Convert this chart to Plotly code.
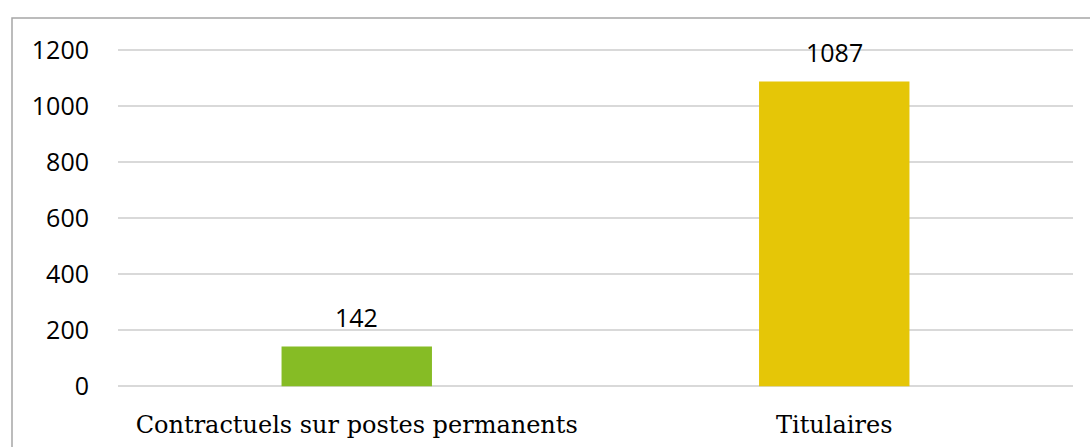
import plotly.graph_objects as go

categories = ["Contractuels sur postes permanents", "Titulaires"]
values = [142, 1087]
bar_colors = ["#86BC25", "#E5C607"]
y_ticks = [0, 200, 400, 600, 800, 1000, 1200]

fig = go.Figure(go.Bar(
    x=categories, y=values,
    marker=dict(color=bar_colors, line=dict(width=0)),
    width=0.315, hoverinfo="x+y",
))

for c, v in zip(categories, values):
    fig.add_annotation(x=c, y=v, text=str(v), showarrow=False,
                       xanchor="center", yanchor="bottom", yshift=10,
                       font=dict(family="Open Sans", size=25, color="#000000"))

fig.update_layout(
    width=1090, height=447,
    margin=dict(l=118, r=17, t=47, b=58, autoexpand=False),
    paper_bgcolor="white", plot_bgcolor="white",
    showlegend=False,
    xaxis=dict(showgrid=False, showline=False, zeroline=False, automargin=False,
               tickfont=dict(family="DejaVu Serif", size=24, color="#000000"),
               ticklabelstandoff=19),
    yaxis=dict(range=[-10, 1210], tickvals=y_ticks, showgrid=True, automargin=False,
               gridcolor="#D9D9D9", gridwidth=1.5, zeroline=False, showline=False,
               tickfont=dict(family="Open Sans", size=25, color="#000000"),
               ticklabelstandoff=28),
    shapes=[dict(type="rect", xref="paper", yref="paper",
                 x0=(12 - 118) / 955, x1=2, y0=-1, y1=(389 - 18) / 342,
                 line=dict(color="#A6A6A6", width=1.5), layer="below")],
)

fig.write_html("out.html")
